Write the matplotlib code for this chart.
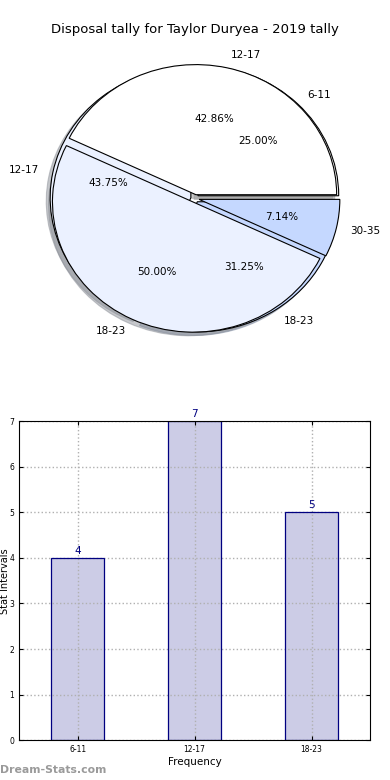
import matplotlib
matplotlib.use('Agg')
import matplotlib.pyplot as plt
import numpy as np

title = 'Disposal tally for Taylor Duryea - 2019 tally'

# frequency of disposals per stat interval
interval_labels = ['6-11', '12-17', '18-23']
interval_counts = [4, 7, 5]

# second set drawn over the first one
overlay_labels = ['12-17', '18-23', '30-35']
overlay_counts = [6, 7, 1]

pie_colors = ['#FFFFFF', '#EBF1FF', '#C5D8FF']

fig = plt.figure(figsize=(3.9, 7.8), dpi=100)

# pie chart
ax1 = fig.add_axes([0.049, 0.537, 0.902, 0.417])
wp = {'edgecolor': 'black', 'linewidth': 0.8}
shadow = {'ox': -0.02, 'oy': -0.02, 'shade': 0.4}
ax1.pie(interval_counts, labels=interval_labels, colors=pie_colors, autopct='%1.2f%%',
        explode=[0.03] * len(interval_counts), shadow=shadow, wedgeprops=wp,
        textprops={'fontsize': 7.5})
ax1.pie(overlay_counts, labels=overlay_labels, colors=pie_colors, autopct='%1.2f%%',
        explode=[0.03] * len(overlay_counts), shadow=shadow, wedgeprops=wp,
        textprops={'fontsize': 7.5})
ax1.set_aspect('auto')
ax1.set_xlim(-1.25, 1.25)
ax1.set_ylim(-1.25, 1.25)
ax1.set_title(title, fontsize=9.5, pad=1.5)

# bar chart
ax2 = fig.add_axes([0.049, 0.051, 0.9, 0.409])
x = np.arange(len(interval_labels))
ax2.bar(x, interval_counts, width=0.45, color='#CCCCE6', linewidth=0, zorder=2)
# outlines on top of the grid
ax2.bar(x, interval_counts, width=0.45, fill=False, edgecolor='#000080',
        linewidth=0.9, zorder=4)
for xi, v in zip(x, interval_counts):
    ax2.text(xi, v + 0.05, str(v), ha='center', va='bottom', color='#000080', fontsize=7.5)
ax2.set_xlim(-0.5, 2.5)
ax2.set_ylim(0, 7)
ax2.set_xticks(x)
ax2.set_xticklabels(interval_labels)
ax2.set_yticks(range(0, 8))
ax2.tick_params(direction='in', top=True, right=True, labelsize=5.5, length=3)
ax2.grid(True, color='#b0b0b0', linestyle=':', linewidth=1)
ax2.set_axisbelow(False)
for sp in ax2.spines.values():
    sp.set_zorder(5)
ax2.set_xlabel('Frequency', fontsize=7.5, labelpad=2)
ax2.set_ylabel('Stat Intervals', fontsize=7)
ax2.yaxis.set_label_coords(-0.026, 0.5)

fig.text(0.0, 0.013, 'Dream-Stats.com', color='#9a9a9a', fontsize=7.8,
         fontweight='bold', ha='left', va='center')

fig.savefig('out.png', dpi=100)
